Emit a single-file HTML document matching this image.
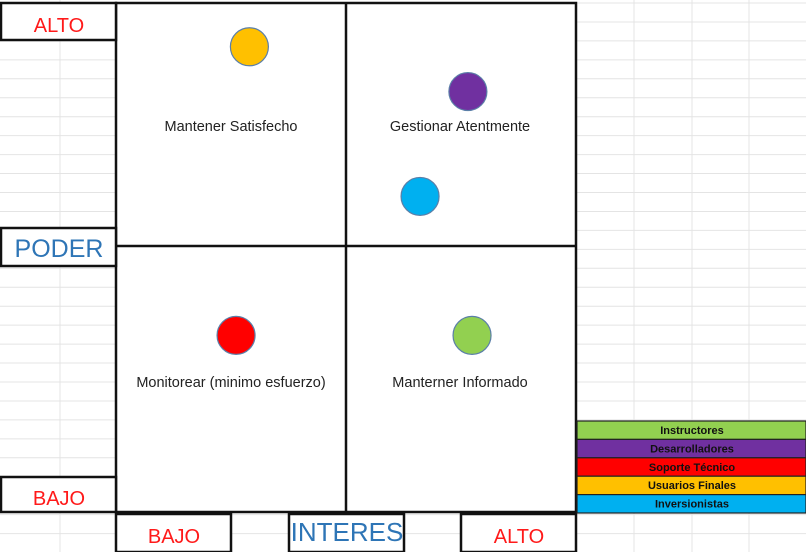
<!DOCTYPE html>
<html><head><meta charset="utf-8"><style>
html,body{margin:0;padding:0;background:#fff;}
svg{display:block;font-family:"Liberation Sans",sans-serif;}
</style></head><body>
<svg id="chart" width="806" height="552" viewBox="0 0 806 552">
<g id="gridlines"></g>
<g fill="#fff" stroke="#111" stroke-width="2.5">
<rect x="116" y="3" width="460" height="509"/>
<line x1="346" y1="3" x2="346" y2="512"/>
<line x1="116" y1="246" x2="576" y2="246"/>
<rect x="1" y="3" width="115" height="37"/>
<rect x="1" y="228" width="115" height="38"/>
<rect x="1" y="477" width="115" height="35"/>
<rect x="116" y="514" width="115" height="38"/>
<rect x="289" y="514" width="115" height="38"/>
<rect x="461" y="514" width="115" height="38"/>
</g>
<g font-size="20" text-anchor="middle">
<text x="59" y="32" fill="#ff1a1a">ALTO</text>
<text x="59" y="257" fill="#2e75b6" font-size="25">PODER</text>
<text x="59" y="505" fill="#ff1a1a">BAJO</text>
<text x="174" y="543" fill="#ff1a1a">BAJO</text>
<text x="347" y="541" fill="#2e75b6" font-size="26">INTERES</text>
<text x="519" y="543" fill="#ff1a1a">ALTO</text>
</g>
<g font-size="14.5" fill="#222" text-anchor="middle">
<text x="231" y="131">Mantener Satisfecho</text>
<text x="460" y="131">Gestionar Atentmente</text>
<text x="231" y="387">Monitorear (minimo esfuerzo)</text>
<text x="460" y="387">Manterner Informado</text>
</g>
<g id="points"></g>
<g id="legend"></g>
</svg>
<script>
const stakeholders = ["Instructores","Desarrolladores","Soporte Técnico","Usuarios Finales","Inversionistas"];
const colors = ["#92d050","#7030a0","#ff0000","#ffc000","#00b0f0"];
const interest = [0.774,0.765,0.261,0.29,0.661];
const power = [0.347,0.826,0.347,0.914,0.62];
const NS="http://www.w3.org/2000/svg";
const xScale=v=>116+v*460;
const yScale=v=>512-v*509;
const gl=document.getElementById('gridlines');
for(let y=3;y<552;y+=18.95){const l=document.createElementNS(NS,'line');l.setAttribute('x1',0);l.setAttribute('x2',806);l.setAttribute('y1',y);l.setAttribute('y2',y);l.setAttribute('stroke','#e4e4e4');


gl.appendChild(l);}
[60,634,692,749].forEach(x=>{const l=document.createElementNS(NS,'line');l.setAttribute('x1',x);l.setAttribute('x2',x);l.setAttribute('y1',0);l.setAttribute('y2',552);l.setAttribute('stroke','#e4e4e4');


gl.appendChild(l);});
const pg=document.getElementById('points');
stakeholders.forEach((s,i)=>{const c=document.createElementNS(NS,'circle');c.setAttribute('cx',xScale(interest[i]));c.setAttribute('cy',yScale(power[i]));c.setAttribute('r',19);c.setAttribute('fill',colors[i]);c.setAttribute('stroke','#5b7fa8');c.setAttribute('stroke-width','1.2');


pg.appendChild(c);});
const lg=document.getElementById('legend');
stakeholders.forEach((s,i)=>{const y=421+i*18.4;const r=document.createElementNS(NS,'rect');r.setAttribute('x',577);r.setAttribute('y',y);r.setAttribute('width',229);r.setAttribute('height',18.4);r.setAttribute('fill',colors[i]);r.setAttribute('stroke','#222');r.setAttribute('stroke-width','1.2');


lg.appendChild(r);
const t=document.createElementNS(NS,'text');t.setAttribute('x',692);t.setAttribute('y',y+13);t.setAttribute('text-anchor','middle');t.setAttribute('font-size','11');t.setAttribute('font-weight','bold');t.setAttribute('fill','#111');t.textContent=s;


lg.appendChild(t);});
</script>
</body></html>
